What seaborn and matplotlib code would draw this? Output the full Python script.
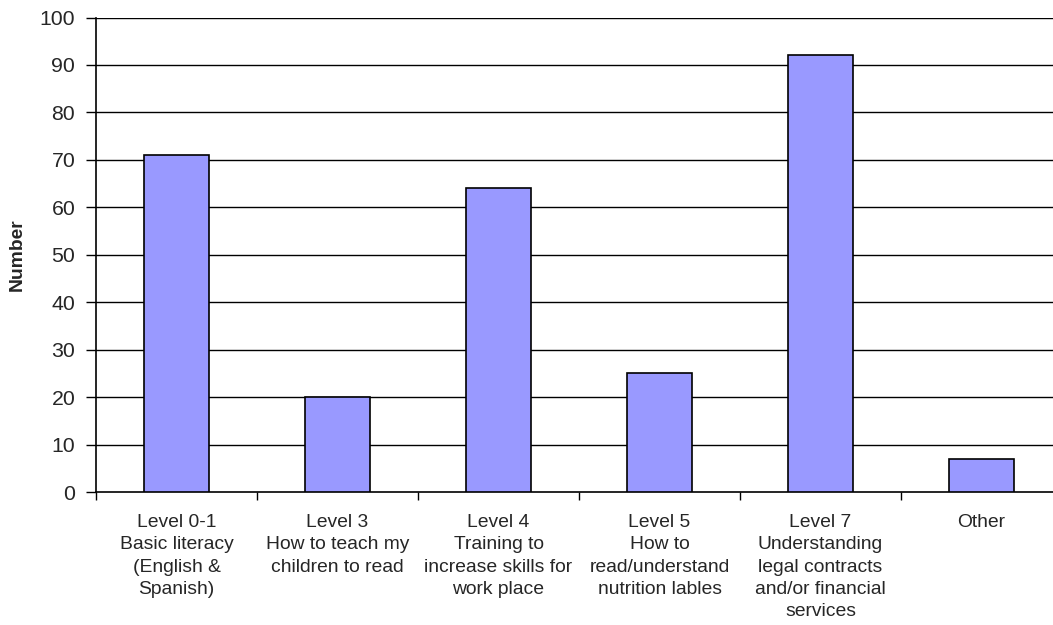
import matplotlib
matplotlib.use("Agg")
import matplotlib.pyplot as plt
import seaborn as sns
import pandas as pd
import numpy as np

categories = [
    "Level 0-1\nBasic literacy\n(English &\nSpanish)",
    "Level 3\nHow to teach my\nchildren to read",
    "Level 4\nTraining to\nincrease skills for\nwork place",
    "Level 5\nHow to\nread/understand\nnutrition lables",
    "Level 7\nUnderstanding\nlegal contracts\nand/or financial\nservices",
    "Other",
]
values = [71, 20, 64, 25, 92, 7]
y_ticks = list(range(0, 101, 10))

sns.set_theme(style="white")
plt.rcParams["font.family"] = ["Liberation Sans", "DejaVu Sans"]

df = pd.DataFrame({"category": categories, "number": values})

fig = plt.figure(figsize=(10.53, 6.25), dpi=100)
ax = fig.add_axes([96 / 1053, 133 / 625, 966 / 1053, 474.5 / 625])

sns.barplot(data=df, x="category", y="number", color="#9999FF", saturation=1,
            width=0.4, edgecolor="black", linewidth=1.2, ax=ax, zorder=3)

ax.set_ylim(0, 100)
ax.set_xlim(-0.5, len(categories) - 0.5)
ax.set_yticks(y_ticks)
ax.set_yticklabels([str(t) for t in y_ticks], fontsize=15.3)
for t in y_ticks[1:]:
    ax.axhline(t, color="black", linewidth=1.0, zorder=1)

ax.set_xticks(np.arange(len(categories)))
ax.set_xticklabels(categories, fontsize=13.9, linespacing=1.4, va="top")
ax.set_xticks(np.arange(len(categories) + 1) - 0.5, minor=True)
ax.tick_params(axis="x", which="major", length=0, pad=16)
ax.tick_params(axis="x", which="minor", length=6, width=1, color="black", direction="out", bottom=True)
ax.tick_params(axis="y", length=7, width=1, color="black", direction="out", left=True, pad=8)

ax.set_xlabel("")
ax.set_ylabel("Number", fontsize=13.9, fontweight="bold", labelpad=10)

for side in ["top", "right"]:
    ax.spines[side].set_visible(False)
for side in ["left", "bottom"]:
    ax.spines[side].set_color("black")
    ax.spines[side].set_linewidth(1.2)

fig.savefig("out.png", dpi=100)
